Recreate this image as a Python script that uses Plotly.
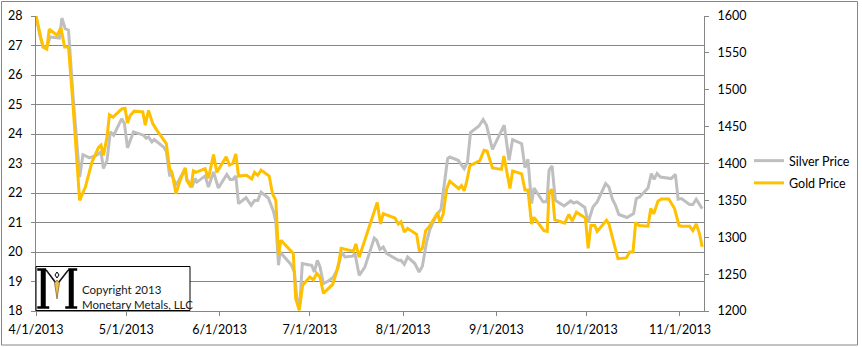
import datetime as dt
import plotly.graph_objects as go

# ---- data ----
# day offsets from 4/1/2013
gold_days = [0, 2.3, 3.6, 4.4, 7, 8.3, 9.5, 10.8, 12.3, 14.5, 16.4, 18.6, 20.8, 21.6, 22.4, 23.6, 24.4, 25.6,
             28.5, 29.6, 30.4, 31.3, 32.6, 35.5, 36.3, 37.4, 38.8, 40.2, 43.3, 44.4, 45.2, 46.5, 47.9, 49.6,
             50.1, 51.5, 52.3, 53.1, 56.2, 57.3, 59, 60.1, 63.2, 64.3, 65.4, 66.4, 67.3, 70, 71.7, 72.6, 73.7,
             74.8, 77.5, 78.6, 79.7, 80.6, 81.4, 85.5, 86.3, 87.5, 88.6, 91, 92.2, 93.3, 94.4, 95.5, 98.6, 99.9,
             100.7, 101.4, 105.5, 106.3, 107.4, 113.4, 114.5, 115.4, 119.3, 120.4, 121.3, 122.4, 123.5, 126.5,
             127.4, 128.4, 129.5, 130.6, 133.5, 134.2, 135.3, 136.5, 137.5, 140.5, 141.4, 142.3, 143.1, 144.2,
             147.5, 148.9, 149.9, 151.7, 154.7, 155.5, 157.5, 158.4, 161.4, 162.5, 163.5, 164.7, 165.5, 168.8,
             169.9, 170.5, 171.5, 172.4, 175.7, 177.1, 178.2, 179.6, 182.6, 183.5, 184.4, 185.7, 186.5, 189.6,
             190.4, 193.4, 196.2, 197.3, 198.4, 199.3, 200.4, 203.4, 204.3, 205.3, 206.7, 207.8, 210.3, 211.5,
             212.2, 213.7, 214.5, 217.2, 218.3, 219.4, 220.5, 221.4]
gold_price = [1600, 1558, 1555, 1582, 1574, 1584, 1558, 1558, 1479, 1350, 1368, 1402, 1422, 1425, 1411, 1436, 1466, 1463,
              1474, 1475, 1455, 1465, 1471, 1470, 1452, 1472, 1454, 1445, 1427, 1393, 1388, 1359, 1377, 1394,
              1377, 1368, 1390, 1388, 1393, 1380, 1412, 1388, 1409, 1398, 1400, 1413, 1383, 1384, 1379, 1388, 1384,
              1391, 1383, 1359, 1350, 1276, 1296, 1278, 1217, 1201, 1235, 1246, 1242, 1251, 1246, 1224, 1236, 1253,
              1267, 1285, 1281, 1291, 1273, 1347, 1318, 1332, 1326, 1318, 1321, 1307, 1312, 1304,
              1281, 1285, 1309, 1314, 1333, 1320, 1331, 1366, 1376, 1366, 1370, 1363, 1375, 1397,
              1404, 1418, 1417, 1394, 1392, 1410, 1366, 1390, 1386, 1364, 1364, 1318, 1327, 1309,
              1308, 1361, 1365, 1324, 1319, 1331, 1322, 1334, 1326, 1285, 1316, 1316, 1308, 1323,
              1318, 1271, 1272, 1280, 1280, 1320, 1316, 1315, 1339, 1332, 1349, 1352, 1352, 1343,
              1339, 1316, 1315, 1315, 1309, 1318, 1305, 1287]

silver_days = [0, 1.4, 2.5, 3.6, 4.7, 7.8, 8.6, 9.7, 10.8, 12.3, 14.5, 15.6, 17.8, 20.2, 21.6, 22.4, 23.6, 24.7,
               25.8, 28.5, 29.4, 30.4, 32.4, 35.7, 36.6, 37.4, 38.5, 39.3, 42.4, 43.3, 44.4, 45.2, 46.6, 48.5,
               49.6, 50.1, 51.8, 52.9, 53.5, 56.2, 57.3, 59, 60.6, 63.4, 64.5, 65.4, 66.4, 67.3, 69.8, 71.5, 72.6,
               73.7, 74.8, 77.2, 78.9, 79.7, 80.6, 81.1, 84.8, 85.9, 86.7, 87.7, 88.5, 90.5, 91.6, 92.5, 93.5, 94.4,
               95.5, 97.1, 98.8, 100.3, 101.6, 102.7, 105.2, 106, 107.4, 109.3, 110.4, 112.4, 113.2, 114.3, 115.4,
               116.5, 120.4, 121.3, 122.4, 123.5, 125.9, 127.3, 128.4, 129.8, 130.9, 133.1, 134.6, 135.7, 136.8,
               137.5, 140.3, 142.3, 143.4, 144.4, 145.3, 147.2, 148.6, 149.7, 151.7, 155.6, 157.2, 158.4, 161.4,
               162.5, 163.5, 164.7, 165.5, 168.5, 169.8, 170.5, 171.5, 172.6, 175.5, 177.7, 178.7, 179.8, 182.4,
               183.5, 185.1, 186.5, 189.3, 190.4, 191.6, 192.6, 193.7, 196.4, 198.6, 199.5, 200.6, 203.4, 204.5,
               205.4, 206.4, 207.5, 211.1, 212.5, 213.4, 214.5, 217.2, 218.3, 219.4, 221.4]
silver_price = [28.0, 27.29, 26.95, 26.95, 27.29, 27.25, 27.93, 27.57, 27.52, 25.3, 22.54, 23.30, 23.19, 23.28, 23.39, 22.83, 23.11, 24.07,
                23.96, 24.52, 24.35, 23.53, 24.07, 23.96, 23.86, 23.9, 23.73, 23.81, 23.56, 23.42, 22.60, 22.60, 22.26, 22.60,
                22.83, 22.49, 22.20, 22.49, 22.37, 22.58, 22.20, 22.71, 22.17, 22.63, 22.46, 22.46, 22.58, 21.64, 21.84, 21.58, 21.75,
                21.75, 22.03, 21.83, 21.38, 21.02, 19.55, 20.0, 19.57, 19.32, 18.42, 18.25, 19.61, 19.57, 19.55, 19.32, 19.72, 19.49,
                18.93, 19.01, 19.15, 19.44, 20.0, 19.83, 19.86, 19.95, 19.21, 19.49, 19.86, 20.47, 20.40, 20.09, 20.17,
                19.95, 19.72, 19.72, 19.58, 19.83, 19.61, 19.32, 19.52, 20.34, 20.77, 21.25, 21.45, 22.26, 23.17,
                23.22, 23.11, 22.83, 23.05, 24.05, 24.12, 24.27, 24.49, 24.30, 23.48, 24.30, 23.11, 23.81, 23.67,
                22.86, 23.14, 21.64, 22.17, 21.70, 21.70, 22.77, 22.92, 21.75, 21.56, 21.73, 21.66, 21.70, 21.51,
                21.00, 21.53, 21.70, 22.32, 22.20, 21.78, 21.58, 21.27, 21.17, 21.30, 21.81, 21.86, 22.17, 22.66,
                22.46, 22.66, 22.54, 22.49, 22.63, 21.79, 21.81, 21.61, 21.61, 21.79, 21.47]

tick_dates = ["2013-04-01", "2013-05-01", "2013-06-01", "2013-07-01", "2013-08-01", "2013-09-01", "2013-10-01", "2013-11-01"]
tick_labels = ["4/1/2013", "5/1/2013", "6/1/2013", "7/1/2013", "8/1/2013", "9/1/2013", "10/1/2013", "11/1/2013"]
silver_ticks = list(range(18, 29))
gold_ticks = list(range(1200, 1601, 50))

base = dt.datetime(2013, 4, 1)
def to_dates(days):
    return [base + dt.timedelta(days=d) for d in days]

W, H = 862, 347
L, R, T, B = 36, 158, 16, 36
PW, PH = W - L - R, H - T - B
def px(x):
    return (x - L) / PW
def py(y):
    return (H - B - y) / PH

FONT = "Lato, Calibri, Carlito, sans-serif"
FS = 12.5
GRID = "#868686"

fig = go.Figure()
fig.add_trace(go.Scatter(x=to_dates(silver_days), y=silver_price, name="Silver Price", mode="lines",
                         line=dict(color="#BFBFBF", width=3), legendgroup="s"))
fig.add_trace(go.Scatter(x=to_dates(gold_days), y=gold_price, name="Gold Price", mode="lines",
                         line=dict(color="#FFC000", width=3), yaxis="y2", legendgroup="g"))

fig.update_layout(
    width=W, height=H,
    margin=dict(l=L, r=R, t=T, b=B, pad=0, autoexpand=False),
    paper_bgcolor="white", plot_bgcolor="white",
    font=dict(family=FONT, size=FS, color="#000000"),
    showlegend=True,
    legend=dict(x=px(749), y=py(146), xanchor="left", yanchor="top", traceorder="grouped",
                tracegroupgap=3, font=dict(family=FONT, size=FS, color="#000000"),
                bgcolor="rgba(0,0,0,0)", borderwidth=0),
    xaxis=dict(type="date", range=[base, base + dt.timedelta(days=222)],
               tickvals=tick_dates, ticktext=tick_labels, ticks="outside", ticklen=4,
               tickcolor=GRID, showline=True, linecolor=GRID, linewidth=1, showgrid=False,
               zeroline=False, tickfont=dict(family=FONT, size=FS), ticklabelstandoff=3),
    yaxis=dict(range=[18, 28], tickvals=silver_ticks, ticks="outside", ticklen=4, tickcolor=GRID,
               showline=True, linecolor=GRID, linewidth=1, showgrid=True, gridcolor=GRID, gridwidth=1,
               zeroline=False, tickfont=dict(family=FONT, size=FS), ticklabelstandoff=6),
    yaxis2=dict(range=[1200, 1600], tickvals=gold_ticks, overlaying="y", side="right", ticks="outside",
                ticklen=4, tickcolor=GRID, showline=True, linecolor=GRID, linewidth=1, showgrid=False,
                zeroline=False, tickfont=dict(family=FONT, size=FS), ticklabelstandoff=6),
)

# outer chart border
fig.add_shape(type="rect", xref="paper", yref="paper", x0=px(1.5), x1=px(857.5), y0=py(345), y1=py(1.5),
              line=dict(color=GRID, width=1), fillcolor="rgba(0,0,0,0)", layer="below")

# logo box
fig.add_shape(type="rect", xref="paper", yref="paper", x0=px(36), x1=px(190), y0=py(310.5), y1=py(266.5),
              line=dict(color="black", width=1), fillcolor="white", layer="above")

def poly(points):
    return "M " + " L ".join("{:.5f},{:.5f}".format(px(a), py(b)) for a, b in points) + " Z"

# serif "M" logo drawn as vector marks
m_parts = [
    [(41, 270), (45.5, 270), (45.5, 307), (41, 307)],          # left stem
    [(69, 270), (73.5, 270), (73.5, 307), (69, 307)],          # right stem
    [(37.5, 306.5), (49, 306.5), (49, 308.5), (37.5, 308.5)],  # bottom-left serif
    [(65.5, 306.5), (77, 306.5), (77, 308.5), (65.5, 308.5)],  # bottom-right serif
    [(37.5, 268.5), (46, 268.5), (46, 270.5), (37.5, 270.5)],  # top-left serif
    [(68.5, 268.5), (77, 268.5), (77, 270.5), (68.5, 270.5)],  # top-right serif
    [(45.5, 270), (46.8, 270), (57.3, 284), (56.7, 285)],      # left diagonal
    [(69, 270), (67.7, 270), (56.7, 284), (57.3, 285)],        # right diagonal
]
for part in m_parts:
    fig.add_shape(type="path", xref="paper", yref="paper", path=poly(part),
                  line=dict(color="black", width=0.5), fillcolor="black", layer="above")
fig.add_shape(type="path", xref="paper", yref="paper",
              path=poly([(57, 272), (59, 275), (57, 278), (55, 275)]),
              line=dict(color="black", width=1), fillcolor="white", layer="above")
fig.add_shape(type="path", xref="paper", yref="paper",
              path=poly([(54.5, 283), (57, 280), (59.5, 283), (57, 299)]),
              line=dict(color="#5a4a1a", width=0.6), fillcolor="#F2C04A", layer="above")

fig.add_annotation(x=px(79.5), y=py(296.5), xref="paper", yref="paper",
                   text="Copyright 2013<br>Monetary Metals, LLC", showarrow=False, align="left",
                   font=dict(family=FONT, size=11.5, color="#1a1a1a"), xanchor="left", yanchor="middle")

fig.write_html("out.html")
